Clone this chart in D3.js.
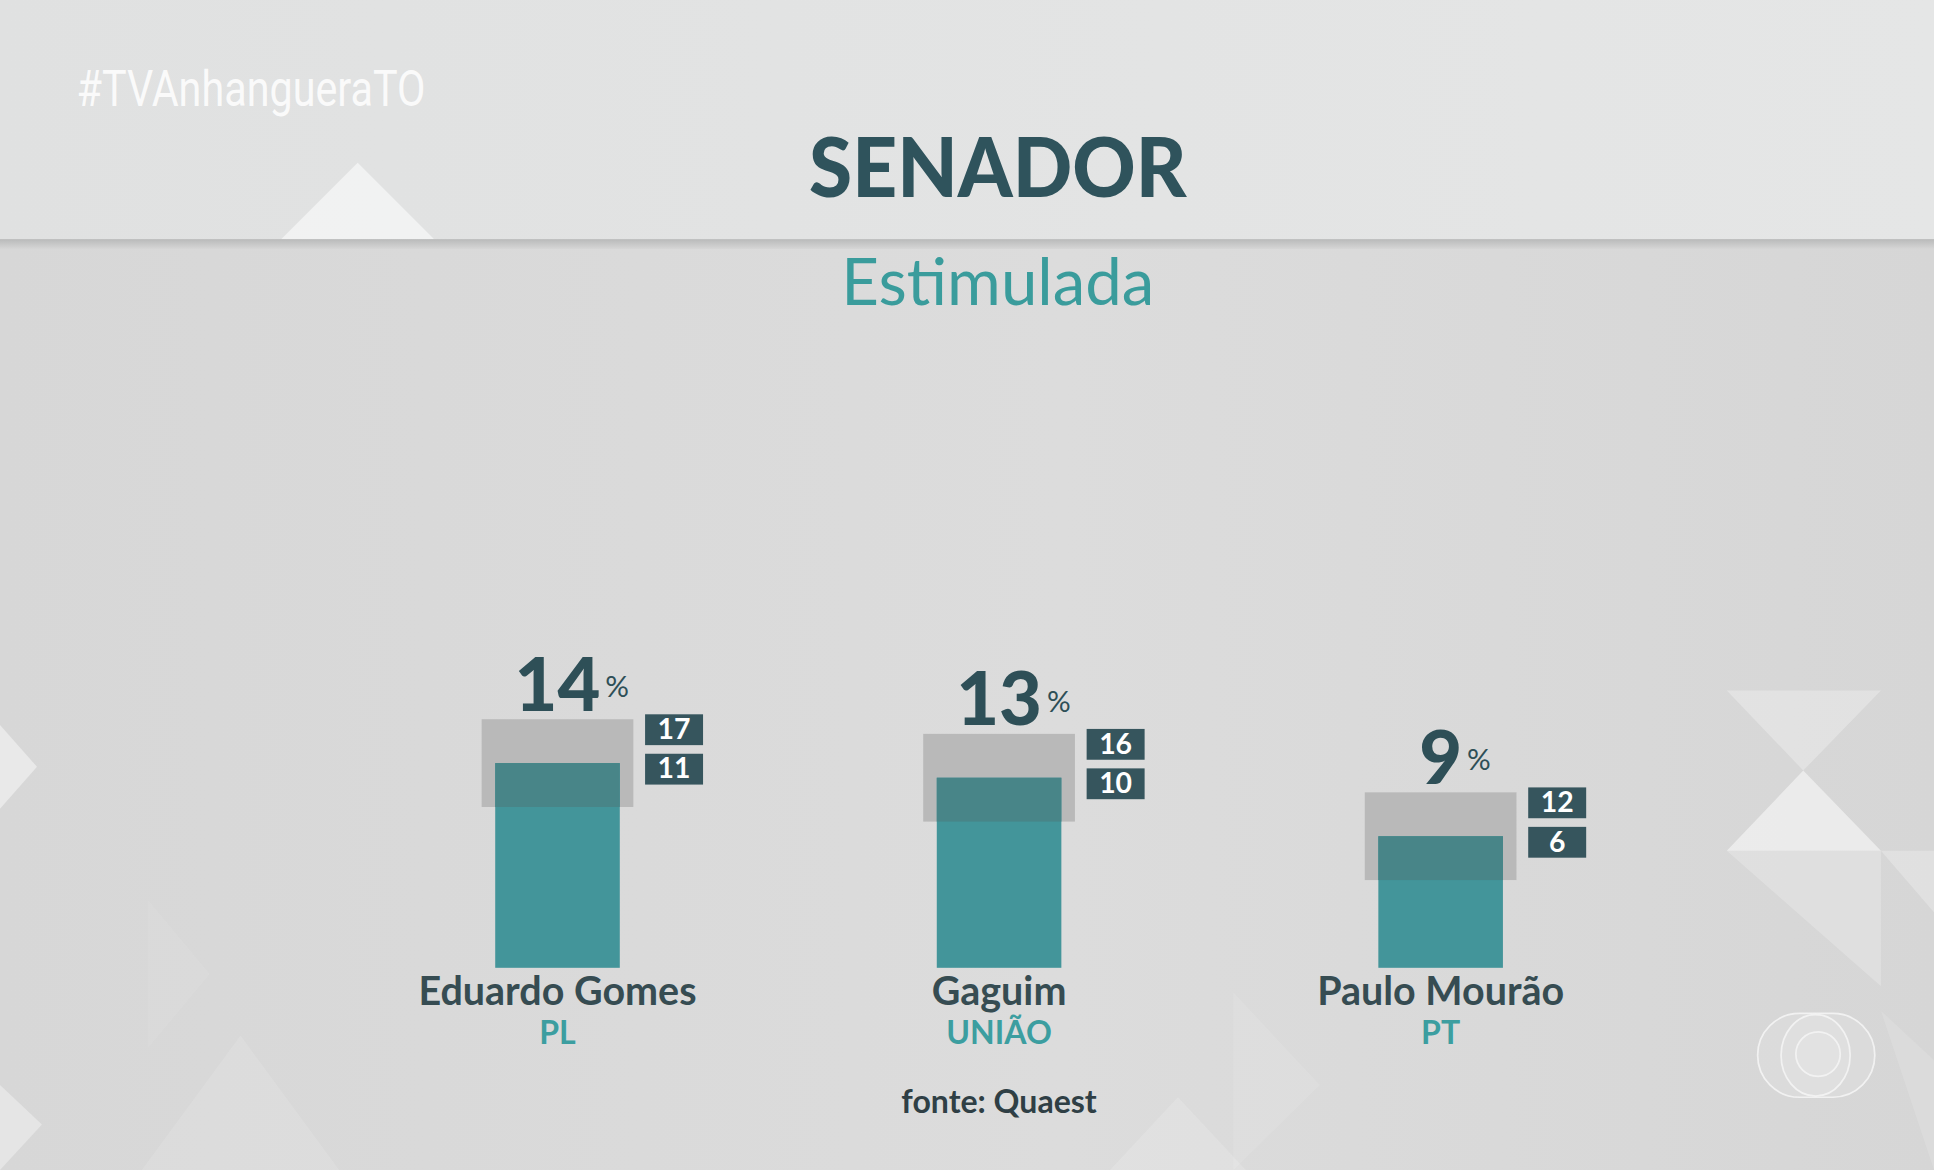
<!DOCTYPE html>
<html>
<head>
<meta charset="utf-8">
<script src="https://cdn.jsdelivr.net/npm/d3@7"></script>
<style>
  html, body { margin: 0; padding: 0; background: #d8d8d8; }
  svg { display: block; }
</style>
</head>
<body>
<svg id="chart" width="1934" height="1170" viewBox="0 0 1568 949" preserveAspectRatio="none"></svg>
<script>
// Senador - pesquisa estimulada (Quaest)
const candidates = ['Eduardo Gomes', 'Gaguim', 'Paulo Mourão'];
const parties = ['PL', 'UNIÃO', 'PT'];
const values = [14, 13, 9];
const upper = [17, 16, 12];
const lower = [11, 10, 6];

const title = 'SENADOR';
const subtitle = 'Estimulada';
const source = 'fonte: Quaest';
const hashtag = '#TVAnhangueraTO';

const svg = d3.select('#chart');
const defs = svg.append('defs');

// background gradients
const bgGrad = defs.append('linearGradient').attr('id', 'bg-low')
  .attr('x1', 0).attr('y1', 0).attr('x2', 1).attr('y2', 0);
bgGrad.append('stop').attr('offset', 0).attr('stop-color', '#d7d7d7');
bgGrad.append('stop').attr('offset', 0.55).attr('stop-color', '#dcdcdc');
bgGrad.append('stop').attr('offset', 1).attr('stop-color', '#d6d6d6');

const topGrad = defs.append('linearGradient').attr('id', 'bg-top')
  .attr('x1', 0).attr('y1', 0).attr('x2', 1).attr('y2', 0);
topGrad.append('stop').attr('offset', 0).attr('stop-color', '#e0e1e1');
topGrad.append('stop').attr('offset', 1).attr('stop-color', '#e5e6e6');

const shadowGrad = defs.append('linearGradient').attr('id', 'bg-shadow')
  .attr('x1', 0).attr('y1', 0).attr('x2', 0).attr('y2', 1);
shadowGrad.append('stop').attr('offset', 0).attr('stop-color', '#b9baba');
shadowGrad.append('stop').attr('offset', 1).attr('stop-color', '#d6d6d6');

svg.append('rect').attr('width', 1568).attr('height', 949).attr('fill', 'url(#bg-low)');

// decorative triangles
const deco = svg.append('g').attr('class', 'deco');
const tris = [
  { pts: [[0, 588], [30, 622], [0, 656]], o: 0.45 },
  { pts: [[0, 880], [34, 912], [0, 949]], o: 0.35 },
  { pts: [[120, 730], [170, 790], [120, 850]], o: 0.06 },
  { pts: [[195, 840], [275, 949], [115, 949]], o: 0.12 },
  { pts: [[1000, 805], [1070, 880], [1000, 949]], o: 0.1 },
  { pts: [[1400, 560], [1525, 560], [1462, 625]], o: 0.28 },
  { pts: [[1400, 690], [1462, 625], [1525, 690]], o: 0.5 },
  { pts: [[1400, 690], [1525, 690], [1525, 800]], o: 0.22 },
  { pts: [[1525, 690], [1568, 690], [1568, 740]], o: 0.25 },
  { pts: [[1525, 820], [1568, 860], [1568, 949]], o: 0.12 },
  { pts: [[900, 949], [955, 890], [1010, 949]], o: 0.15 }
];
deco.selectAll('polygon').data(tris).join('polygon')
  .attr('points', d => d.pts.map(p => p.join(',')).join(' '))
  .attr('fill', '#ffffff')
  .attr('opacity', d => d.o);

// header band
svg.append('rect').attr('width', 1568).attr('height', 194).attr('fill', 'url(#bg-top)');
svg.append('polygon')
  .attr('points', '228,194 290,132 352,194')
  .attr('fill', '#ffffff').attr('opacity', 0.55);
svg.append('rect').attr('y', 194).attr('width', 1568).attr('height', 8).attr('fill', 'url(#bg-shadow)');

svg.append('text')
  .attr('x', 62).attr('y', 86)
  .attr('textLength', 283).attr('lengthAdjust', 'spacingAndGlyphs')
  .attr('font-family', 'Roboto, sans-serif').attr('font-weight', 400)
  .attr('font-size', 40).attr('fill', '#ffffff').attr('fill-opacity', 0.85)
  .text(hashtag);

svg.append('text')
  .attr('x', 809).attr('y', 160).attr('text-anchor', 'middle')
  .attr('textLength', 306).attr('lengthAdjust', 'spacingAndGlyphs')
  .attr('font-family', 'Lato, sans-serif').attr('font-weight', 900)
  .attr('font-size', 66).attr('fill', '#2f535c')
  .text(title);

svg.append('text')
  .attr('x', 809).attr('y', 247).attr('text-anchor', 'middle')
  .attr('font-family', 'Lato, sans-serif').attr('font-weight', 400)
  .attr('font-size', 53).attr('fill', '#3a9c9c')
  .text(subtitle);

// scales
const x = d3.scalePoint().domain(candidates).range([452, 1168]);
const y = d3.scaleLinear().domain([0, 20]).range([785, 785 - 20 * 11.86]);

const barW = 101;
const bandW = 123;
const boxW = 47, boxH = 25;

const rows = candidates.map((c, i) => ({
  name: c, party: parties[i], value: values[i], hi: upper[i], lo: lower[i]
}));

const g = svg.append('g').attr('class', 'bars');

// margin-of-error band
g.selectAll('rect.band').data(rows).join('rect')
  .attr('class', 'band')
  .attr('x', d => x(d.name) - bandW / 2)
  .attr('y', d => y(d.hi))
  .attr('width', bandW)
  .attr('height', d => y(d.lo) - y(d.hi))
  .attr('fill', '#b9b9b9');

// main bar
g.selectAll('rect.bar').data(rows).join('rect')
  .attr('class', 'bar')
  .attr('x', d => x(d.name) - barW / 2)
  .attr('y', d => y(d.value))
  .attr('width', barW)
  .attr('height', d => y(0) - y(d.value))
  .attr('fill', '#43959a');

// part of the bar inside the band
g.selectAll('rect.overlap').data(rows).join('rect')
  .attr('class', 'overlap')
  .attr('x', d => x(d.name) - barW / 2)
  .attr('y', d => y(Math.min(d.value, d.hi)))
  .attr('width', barW)
  .attr('height', d => Math.max(0, y(d.lo) - y(Math.min(d.value, d.hi))))
  .attr('fill', '#488588');

// big value label
g.selectAll('text.val').data(rows).join('text')
  .attr('class', 'val')
  .attr('x', d => x(d.name))
  .attr('y', d => y(d.hi) - 7)
  .attr('text-anchor', 'middle')
  .attr('font-family', 'Lato, sans-serif').attr('font-weight', 900)
  .attr('font-size', 60).attr('fill', '#2e4f57')
  .text(d => d.value);

g.selectAll('text.pct').data(rows).join('text')
  .attr('class', 'pct')
  .attr('x', (d, i) => {
    const num = g.selectAll('text.val').nodes()[i];
    return x(d.name) + num.getComputedTextLength() / 2 + 4;
  })
  .attr('y', d => y(d.hi) - 18)
  .attr('font-family', 'Lato, sans-serif').attr('font-weight', 400)
  .attr('font-size', 24).attr('fill', '#2e4f57')
  .text('%');

// upper / lower boxes
const boxes = rows.flatMap(d => [
  { name: d.name, hi: d.hi, label: d.hi, k: 0 },
  { name: d.name, hi: d.hi, label: d.lo, k: 1 }
]);
const bx = g.selectAll('g.box').data(boxes).join('g')
  .attr('class', 'box')
  .attr('transform', d => `translate(${x(d.name) + 71},${y(d.hi) - 4 + d.k * 32})`);
bx.append('rect').attr('width', boxW).attr('height', boxH).attr('fill', '#36555d');
bx.append('text')
  .attr('x', boxW / 2).attr('y', 20)
  .attr('text-anchor', 'middle')
  .attr('font-family', 'Lato, sans-serif').attr('font-weight', 700)
  .attr('font-size', 23).attr('fill', '#ffffff')
  .text(d => d.label);

// candidate and party
g.selectAll('text.name').data(rows).join('text')
  .attr('class', 'name')
  .attr('x', d => x(d.name)).attr('y', 815)
  .attr('text-anchor', 'middle')
  .attr('font-family', 'Lato, sans-serif').attr('font-weight', 700)
  .attr('font-size', 32).attr('fill', '#364c52')
  .text(d => d.name);

g.selectAll('text.party').data(rows).join('text')
  .attr('class', 'party')
  .attr('x', d => x(d.name)).attr('y', 847)
  .attr('text-anchor', 'middle')
  .attr('font-family', 'Lato, sans-serif').attr('font-weight', 700)
  .attr('font-size', 26).attr('fill', '#3c9ea0')
  .text(d => d.party);

svg.append('text')
  .attr('x', 810).attr('y', 903).attr('text-anchor', 'middle')
  .attr('font-family', 'Lato, sans-serif').attr('font-weight', 700)
  .attr('font-size', 26).attr('fill', '#2f3f45')
  .text(source);

// broadcaster logo outline
const logo = svg.append('g').attr('class', 'logo')
  .attr('fill', '#ffffff').attr('fill-opacity', 0.12)
  .attr('stroke', '#f4f4f4').attr('stroke-width', 1.4).attr('stroke-opacity', 0.9);
logo.append('rect').attr('x', 1425).attr('y', 822).attr('width', 95).attr('height', 68).attr('rx', 34);
logo.append('ellipse').attr('cx', 1472).attr('cy', 856).attr('rx', 28).attr('ry', 33);
logo.append('circle').attr('cx', 1474).attr('cy', 855).attr('r', 18);
</script>
</body>
</html>
